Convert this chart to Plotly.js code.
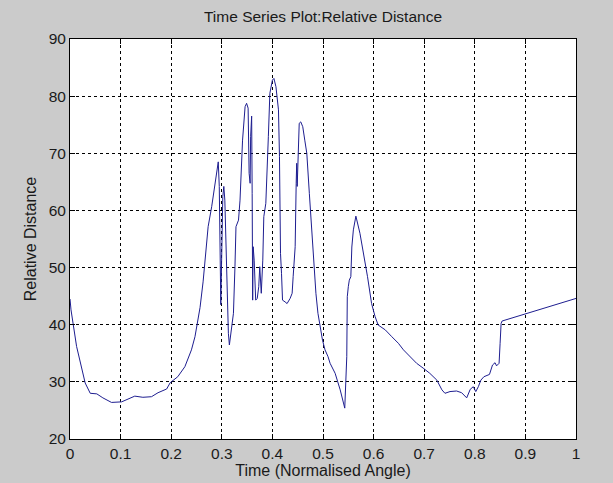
<!DOCTYPE html>
<html>
<head>
<meta charset="utf-8">
<script src="https://cdn.plot.ly/plotly-3.0.1.min.js"></script>
<style>html,body{margin:0;padding:0;background:#cbcbcb;}#chart{width:613px;height:483px;}</style>
</head>
<body>
<div id="chart"></div>
<script>
const timeValues = [0.000,0.002,0.013,0.030,0.040,0.053,0.065,0.082,0.102,0.115,0.128,0.144,0.161,0.174,0.191,0.198,0.213,0.227,0.240,0.247,0.253,0.257,0.263,0.269,0.273,0.280,0.287,0.293,0.295,0.298,0.302,0.304,0.306,0.308,0.311,0.313,0.315,0.320,0.323,0.326,0.328,0.333,0.336,0.341,0.346,0.349,0.352,0.354,0.356,0.357,0.359,0.360,0.361,0.362,0.364,0.367,0.370,0.373,0.375,0.378,0.381,0.383,0.387,0.392,0.395,0.400,0.403,0.407,0.410,0.412,0.414,0.415,0.416,0.418,0.420,0.425,0.429,0.435,0.439,0.441,0.445,0.447,0.448,0.449,0.452,0.453,0.456,0.460,0.464,0.468,0.473,0.478,0.482,0.486,0.490,0.494,0.499,0.504,0.510,0.514,0.524,0.534,0.543,0.547,0.548,0.550,0.552,0.555,0.557,0.560,0.565,0.573,0.580,0.588,0.596,0.603,0.609,0.623,0.636,0.649,0.659,0.672,0.685,0.698,0.711,0.725,0.735,0.741,0.751,0.764,0.774,0.784,0.791,0.797,0.802,0.807,0.812,0.818,0.829,0.835,0.840,0.843,0.848,0.850,0.852,0.854,0.998,1.000];
const relDistance = [44.5,42.6,36.2,29.8,28.0,27.9,27.2,26.4,26.5,27.0,27.5,27.3,27.4,28.1,28.75,29.85,30.9,32.65,35.6,37.9,40.8,43.0,47.5,53.0,57.15,60.65,64.75,68.5,64.2,43.5,62.4,64.2,61.8,53.65,44.3,38.5,36.45,39.65,42.0,50.15,57.15,58.3,61.8,72.3,78.15,78.75,77.9,66.5,64.75,72.9,76.5,63.0,44.3,53.65,51.3,44.3,44.6,46.65,50.15,45.5,51.3,58.9,61.25,72.9,80.5,82.8,83.1,81.65,78.75,77.6,69.4,57.15,52.5,49.0,44.3,44.0,43.7,44.6,45.5,48.4,53.65,64.75,68.25,64.2,70.6,75.25,75.5,74.65,72.3,70.0,63.0,56.0,50.15,45.5,42.0,39.65,37.3,35.6,34.4,33.25,31.5,28.6,25.4,34.4,44.9,46.65,47.8,48.4,53.6,56.6,59.0,56.0,52.5,48.4,43.7,41.4,39.95,39.1,37.9,36.75,35.6,34.4,33.25,32.4,31.5,30.3,28.6,28.0,28.3,28.4,28.1,27.2,28.7,29.15,28.3,29.15,30.3,30.9,31.3,32.95,33.35,32.8,33.25,36.75,40.25,40.65,44.5,44.6];
const xTicks = [0,0.1,0.2,0.3,0.4,0.5,0.6,0.7,0.8,0.9,1];
const xTickText = ['0','0.1','0.2','0.3','0.4','0.5','0.6','0.7','0.8','0.9','1'];
const yTicks = [20,30,40,50,60,70,80,90];

const font = {family: 'Liberation Sans, Arial, sans-serif', size: 15.5, color: '#1a1a1a'};
const titleFont = {family: 'Liberation Sans, Arial, sans-serif', size: 15.5, color: '#1a1a1a'};
const axisFont = {family: 'Liberation Sans, Arial, sans-serif', size: 16, color: '#1a1a1a'};
const axisCommon = {
  showline: true, linecolor: '#000', linewidth: 1, mirror: 'allticks',
  ticks: 'inside', ticklen: 5, tickcolor: '#000',
  showgrid: true, gridcolor: '#000', gridwidth: 1, griddash: '3px,3px',
  zeroline: false, automargin: false, tickfont: font
};
Plotly.newPlot('chart', [{
  x: timeValues, y: relDistance, type: 'scatter', mode: 'lines',
  line: {color: '#1e1e90', width: 1}, hoverinfo: 'skip'
}], {
  width: 613, height: 483,
  paper_bgcolor: '#cbcbcb', plot_bgcolor: '#ffffff',
  margin: {l: 70, r: 37, t: 39, b: 44},
  showlegend: false,
  font: font,
  title: {text: 'Time Series Plot:Relative Distance', font: titleFont, x: 0.5, xref: 'paper', y: 0.965, yref: 'container', yanchor: 'middle'},
  xaxis: Object.assign({}, axisCommon, {range: [0, 1], tickvals: xTicks, ticktext: xTickText,
    title: {text: 'Time (Normalised Angle)', font: axisFont, standoff: 4}}),
  yaxis: Object.assign({}, axisCommon, {range: [20, 90], tickvals: yTicks,
    title: {text: 'Relative Distance', font: axisFont, standoff: 8}})
}, {staticPlot: true, displayModeBar: false});
</script>
</body>
</html>
